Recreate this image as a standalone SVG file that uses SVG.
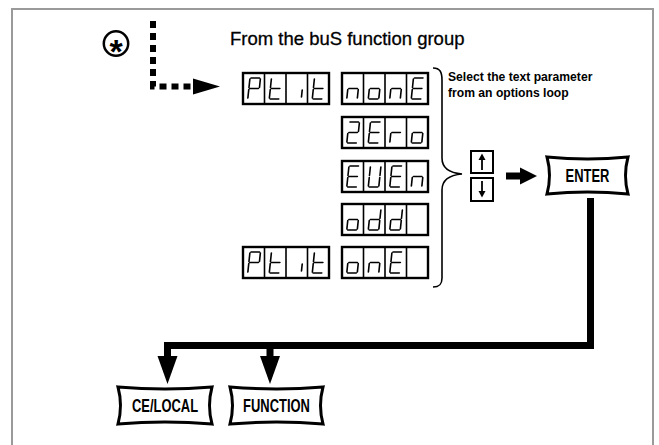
<svg xmlns="http://www.w3.org/2000/svg" xmlns:xlink="http://www.w3.org/1999/xlink" width="659" height="445" viewBox="0 0 659 445">
<style>
.frame{fill:none;stroke:#9a9a9a;stroke-width:2}
.seg{fill:none;stroke:#000;stroke-width:1.6;stroke-linecap:round}
.dbox{fill:#fff;stroke:#000;stroke-width:2.4}
.div{stroke:#000;stroke-width:1.6}
.title{font-family:"Liberation Sans",Arial,sans-serif;font-size:18.5px;fill:#000;stroke:#000;stroke-width:0.3}
.note{font-family:"Liberation Sans",Arial,sans-serif;font-weight:bold;font-size:13.5px;fill:#000}
.btn{fill:#fff;stroke:#000;stroke-width:3;stroke-linejoin:miter}
.btntxt{font-family:"Liberation Sans",Arial,sans-serif;font-weight:bold;font-size:17.5px;fill:#000;text-anchor:middle}
.thick{fill:none;stroke:#000;stroke-width:7;stroke-linejoin:miter}
.dots{fill:none;stroke:#000;stroke-width:6;stroke-dasharray:7 5}
.thin{fill:none;stroke:#000;stroke-width:1.6}
.ud{fill:#fff;stroke:#000;stroke-width:2}
</style>
<defs>
<g id="ch-P"><path class="seg" d="M7,5H15.5M16.5,6V14.5M6,6V14.5M7,15.5H15.5M6,16.5V25"/></g>
<g id="ch-t"><path class="seg" d="M6,6V14.5M6,16.5V25M7,26H15.5M7,15.5H15.5"/></g>
<g id="ch-i"><path class="seg" d="M16.5,17V24"/></g>
<g id="ch-n"><path class="seg" d="M6,16.5V25M7,15.5H15.5M16.5,16.5V25"/></g>
<g id="ch-o"><path class="seg" d="M7,15.5H15.5M16.5,16.5V25M7,26H15.5M6,16.5V25"/></g>
<g id="ch-E"><path class="seg" d="M7,5H15.5M6,6V14.5M7,15.5H15.5M6,16.5V25M7,26H15.5"/></g>
<g id="ch-2"><path class="seg" d="M7,5H15.5M16.5,6V14.5M7,15.5H15.5M6,16.5V25M7,26H15.5"/></g>
<g id="ch-r"><path class="seg" d="M6,16.5V25M7,15.5H15.5"/></g>
<g id="ch-U"><path class="seg" d="M6,6V14.5M6,16.5V25M7,26H15.5M16.5,16.5V25M16.5,6V14.5"/></g>
<g id="ch-d"><path class="seg" d="M16.5,6V14.5M16.5,16.5V25M7,26H15.5M6,16.5V25M7,15.5H15.5"/></g>
<g id="cells">
<rect class="dbox" x="0" y="0" width="86" height="31"/>
<path class="div" d="M21.5,0V31M43,0V31M64.5,0V31"/>
</g>
</defs>

<path class="frame" d="M12,446V9H653V446"/>

<g id="connectors">
<path class="dots" d="M153,21V86.5H196"/>
<polygon points="193,78.5 220,86.5 193,94.5"/>
<path class="thick" d="M506,176H522"/>
<polygon points="520,167.5 537,176 520,184.5"/>
<path class="thick" d="M590.5,198V345.5H167.5V358M270,345.5V358"/>
<polygon points="157.5,356 177.5,356 167.5,384"/>
<polygon points="260,356 280,356 270,384"/>
</g>

<g id="start-marker">
<circle cx="116" cy="43.5" r="12.2" fill="none" stroke="#000" stroke-width="2.5"/>
<text x="116" y="62.5" font-family="Liberation Sans,Arial,sans-serif" font-size="34" font-weight="bold" text-anchor="middle">*</text>
</g>

<g id="title"><text class="title" x="230" y="45">From the buS function group</text></g>

<g id="disp-ptit-top" transform="translate(243,73)">
<use xlink:href="#cells"/>
<use xlink:href="#ch-P" transform="translate(1.5,0) skewX(-6)"/>
<use xlink:href="#ch-t" transform="translate(23,0) skewX(-6)"/>
<use xlink:href="#ch-i" transform="translate(44.5,0) skewX(-6)"/>
<use xlink:href="#ch-t" transform="translate(66,0) skewX(-6)"/>
</g>
<g id="disp-none" transform="translate(342,73)">
<use xlink:href="#cells"/>
<use xlink:href="#ch-n" transform="translate(1.5,0) skewX(-6)"/>
<use xlink:href="#ch-o" transform="translate(23,0) skewX(-6)"/>
<use xlink:href="#ch-n" transform="translate(44.5,0) skewX(-6)"/>
<use xlink:href="#ch-E" transform="translate(66,0) skewX(-6)"/>
</g>
<g id="disp-zero" transform="translate(342,117)">
<use xlink:href="#cells"/>
<use xlink:href="#ch-2" transform="translate(1.5,0) skewX(-6)"/>
<use xlink:href="#ch-E" transform="translate(23,0) skewX(-6)"/>
<use xlink:href="#ch-r" transform="translate(44.5,0) skewX(-6)"/>
<use xlink:href="#ch-o" transform="translate(66,0) skewX(-6)"/>
</g>
<g id="disp-even" transform="translate(342,161)">
<use xlink:href="#cells"/>
<use xlink:href="#ch-E" transform="translate(1.5,0) skewX(-6)"/>
<use xlink:href="#ch-U" transform="translate(23,0) skewX(-6)"/>
<use xlink:href="#ch-E" transform="translate(44.5,0) skewX(-6)"/>
<use xlink:href="#ch-n" transform="translate(66,0) skewX(-6)"/>
</g>
<g id="disp-odd" transform="translate(342,204)">
<use xlink:href="#cells"/>
<use xlink:href="#ch-o" transform="translate(1.5,0) skewX(-6)"/>
<use xlink:href="#ch-d" transform="translate(23,0) skewX(-6)"/>
<use xlink:href="#ch-d" transform="translate(44.5,0) skewX(-6)"/>
</g>
<g id="disp-ptit-bottom" transform="translate(243,247)">
<use xlink:href="#cells"/>
<use xlink:href="#ch-P" transform="translate(1.5,0) skewX(-6)"/>
<use xlink:href="#ch-t" transform="translate(23,0) skewX(-6)"/>
<use xlink:href="#ch-i" transform="translate(44.5,0) skewX(-6)"/>
<use xlink:href="#ch-t" transform="translate(66,0) skewX(-6)"/>
</g>
<g id="disp-one" transform="translate(342,247)">
<use xlink:href="#cells"/>
<use xlink:href="#ch-o" transform="translate(1.5,0) skewX(-6)"/>
<use xlink:href="#ch-n" transform="translate(23,0) skewX(-6)"/>
<use xlink:href="#ch-E" transform="translate(44.5,0) skewX(-6)"/>
</g>

<g id="options-brace">
<path class="thin" d="M433,68C440,68 442,72 442,80V158C442,168 450,173 462,174C450,175 442,180 442,190V278C442,284 440,287 433,287"/>
</g>

<g id="note">
<text class="note" transform="translate(448,81) scale(0.9,1)">Select the text parameter</text>
<text class="note" transform="translate(448,96.5) scale(0.9,1)">from an options loop</text>
</g>

<g id="updown-keys">
<rect class="ud" x="471" y="151" width="22" height="22"/>
<path d="M482,170V158" stroke="#000" stroke-width="1.8"/>
<polygon points="478.5,160 482,153.5 485.5,160"/>
<rect class="ud" x="471" y="178" width="22" height="23"/>
<path d="M482,181V193" stroke="#000" stroke-width="1.8"/>
<polygon points="478.5,191 482,197.5 485.5,191"/>
</g>

<g id="enter-key">
<path class="btn" d="M547,157Q587.5,161 628,157Q623,175.5 628,194Q587.5,190 547,194Q552,175.5 547,157Z"/>
<text class="btntxt" transform="translate(587.5,182) scale(0.74,1)">ENTER</text>
</g>

<g id="celocal-key">
<path class="btn" d="M118,387Q165,391 212,387Q207,405.5 212,424Q165,420 118,424Q123,405.5 118,387Z"/>
<text class="btntxt" transform="translate(165,411.5) scale(0.74,1)">CE/LOCAL</text>
</g>

<g id="function-key">
<path class="btn" d="M230,387Q276.5,391 323,387Q318,405.5 323,424Q276.5,420 230,424Q235,405.5 230,387Z"/>
<text class="btntxt" transform="translate(276.5,411.5) scale(0.74,1)">FUNCTION</text>
</g>
</svg>
